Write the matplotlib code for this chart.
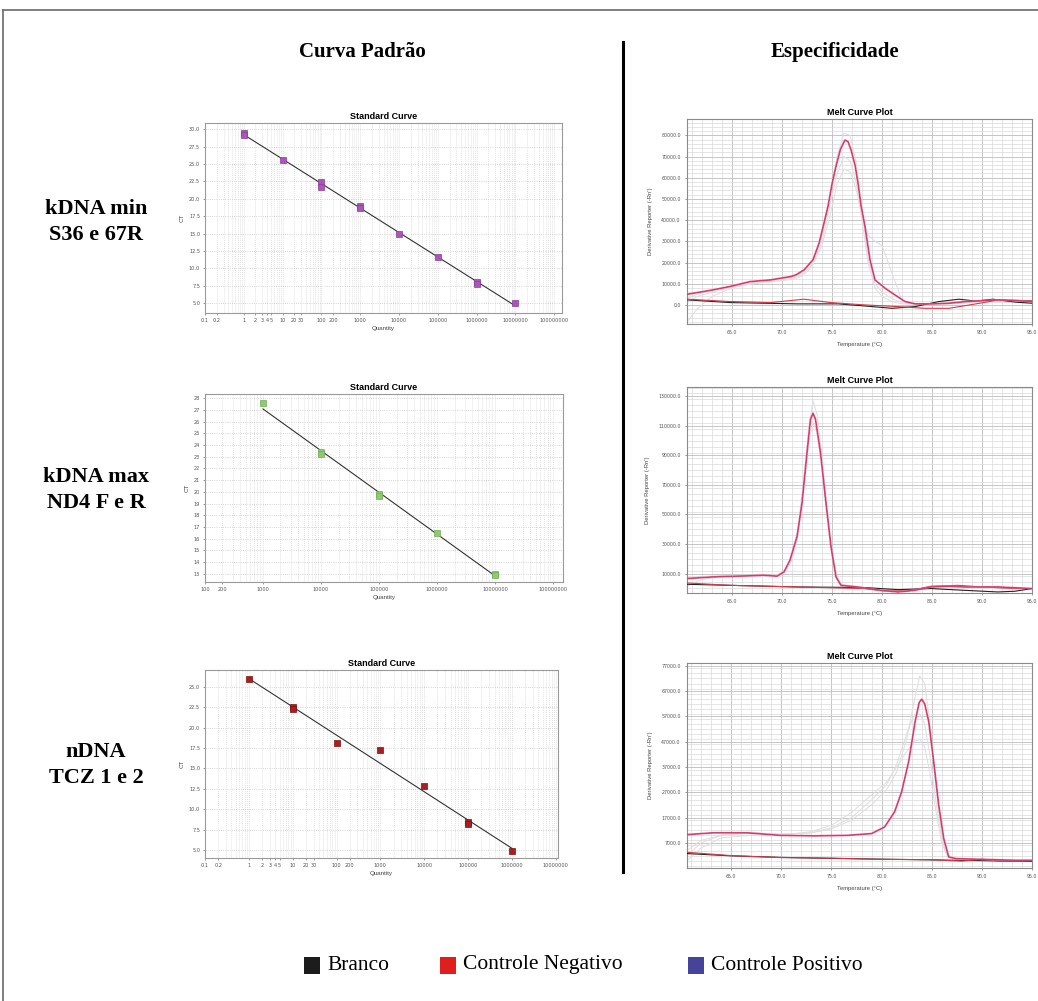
import numpy as np
import matplotlib
matplotlib.use('Agg')
import matplotlib.pyplot as plt
from matplotlib.ticker import FixedLocator, FixedFormatter, LogLocator, MultipleLocator, NullFormatter
from matplotlib.patches import Rectangle
from matplotlib.lines import Line2D

# ---------------- data ----------------
col_titles = ["Curva Padrão", "Especificidade"]
row_labels = ["kDNA min\nS36 e 67R", "kDNA max\nND4 F e R", "nDNA\nTCZ 1 e 2"]
legend_labels = ["Branco", "Controle Negativo", "Controle Positivo"]
legend_colors = ["#1c1c1c", "#e01e1e", "#45439a"]

# Standard curves (quantity, Ct)
sc1_qty = [1, 1, 10, 100, 100, 1000, 1000, 1e4, 1e5, 1e6, 1e6, 1e7]
sc1_ct = [29.5, 29.2, 25.55, 22.45, 21.7, 19.0, 18.7, 15.0, 11.6, 8.1, 7.8, 5.0]
sc2_qty = [1e3, 1e4, 1e4, 1e5, 1e5, 1e6, 1e7, 1e7]
sc2_ct = [27.6, 23.4, 23.2, 19.8, 19.6, 16.5, 13.0, 12.9]
sc3_qty = [1, 10, 10, 100, 1000, 1e4, 1e5, 1e5, 1e6]
sc3_ct = [26.05, 22.5, 22.3, 18.1, 17.3, 12.8, 8.4, 8.2, 4.9]

sc1_xticks = [0.1, 0.2, 1, 2, 3, 4, 5, 10, 20, 30, 100, 200, 1000, 1e4, 1e5, 1e6, 1e7, 1e8]
sc1_yticks = [5.0, 7.5, 10.0, 12.5, 15.0, 17.5, 20.0, 22.5, 25.0, 27.5, 30.0]
sc2_xticks = [100, 200, 1000, 1e4, 1e5, 1e6, 1e7, 1e8]
sc2_yticks = list(range(13, 29))
sc3_xticks = [0.1, 0.2, 1, 2, 3, 4, 5, 10, 20, 30, 100, 200, 1000, 1e4, 1e5, 1e6, 1e7]
sc3_yticks = [5.0, 7.5, 10.0, 12.5, 15.0, 17.5, 20.0, 22.5, 25.0]

# Melt curve 1
m1_pos_T = [60.5, 63.1, 64.8, 66.8, 68.85, 70.9, 71.4, 72.2, 73.1, 73.7, 74.2, 74.6, 75.0, 75.4, 75.85,
            76.3, 76.6, 76.9, 77.3, 77.6, 77.9, 78.3, 78.8, 79.3, 80.3, 81.3, 82.3, 83.3, 85.0, 86.7,
            88.4, 91.7, 95.0]
m1_pos_y = [5000, 7100, 8700, 11000, 11800, 13400, 14200, 16500, 21300, 29000, 38600, 46500, 57000, 65400, 73500,
            77800, 77000, 73200, 66000, 57500, 47000, 37000, 21300, 11800, 7900, 4700, 1600, 500, 500, 800,
            1600, 2400, 1600]
m1_gray_T = [60.5, 61.5, 63, 65, 67, 69, 71, 72, 73, 74, 74.8, 75.5, 76.2, 76.8, 77.4, 78, 78.6, 79.3, 80,
             81, 82, 84, 87, 90, 95]
m1_gray_a = [3000, 5000, 7000, 9000, 10500, 11500, 13000, 15000, 20000, 33000, 52000, 70000, 81000, 80000,
             68000, 45000, 22000, 10000, 6000, 3000, 1000, 500, 800, 1500, 1000]
m1_gray_b = [-8000, -2000, 4000, 8000, 10000, 11000, 12000, 13500, 18000, 28000, 42000, 57000, 64000, 63000,
             55000, 42000, 33000, 30000, 28000, 15000, 2000, 0, 500, 1500, 1000]
m1_gray_c = [1000, 4000, 6000, 8500, 10000, 11000, 12500, 14000, 19000, 30000, 47000, 62000, 70000, 68000,
             58000, 40000, 20000, 8000, 4000, 1500, 500, 200, 1000, 2000, 1500]
m1_blk_T = [60.5, 64.8, 68.2, 71.5, 75.6, 78.3, 81.0, 83.3, 85.7, 87.7, 89.4, 91.1, 93.4, 95.0]
m1_blk_y = [2400, 1100, 800, 500, 500, -500, -1600, -800, 1600, 2700, 1800, 2700, 1300, 800]
m1_neg_T = [60.5, 64.8, 68.85, 72.2, 74.9, 78.3, 81.6, 84.3, 86.7, 89.4, 91.7, 95.0]
m1_neg_y = [2700, 1600, 1100, 2700, 1100, 0, -800, -1600, -1600, 500, 2400, 2000]
m1_yticks = [0, 10000, 20000, 30000, 40000, 50000, 60000, 70000, 80000]

# Melt curve 2
m2_pos_T = [60.5, 63.1, 66.5, 68.15, 69.5, 70.2, 70.8, 71.5, 72.0, 72.5, 72.85, 73.1, 73.35, 73.85, 74.4,
            74.9, 75.4, 75.9, 77.5, 79.9, 81.6, 83.25, 84.9, 86.6, 88.3, 91.6, 95.0]
m2_pos_y = [6600, 7700, 8400, 8900, 8200, 11100, 19100, 35000, 57700, 91800, 114500, 118600, 114500, 91800,
            57700, 28200, 7700, 2000, 900, -1400, -2500, -1400, 900, 1400, 900, 900, -200]
m2_gray_T = [60.5, 62, 64, 67, 69.5, 70.3, 71, 71.6, 72.2, 72.7, 73.1, 73.5, 74, 74.5, 75, 75.5, 76, 78, 82,
             86, 90, 95]
m2_gray_a = [7000, 8000, 8500, 9000, 9000, 12000, 22000, 40000, 75000, 110000, 127000, 118000, 90000, 55000,
             25000, 8000, 2500, 800, -1500, 1000, 900, 0]
m2_gray_b = [1500, 6000, 8000, 8500, 8500, 11000, 19000, 36000, 68000, 100000, 112000, 106000, 82000, 50000,
             22000, 6000, 2000, 500, -2000, 1200, 800, -300]
m2_blk_T = [60.5, 64.8, 71.5, 78.2, 81.6, 84.9, 88.3, 91.6, 93.3, 95.0]
m2_blk_y = [2700, 2000, 900, 500, -900, -200, -1400, -2500, -2000, -200]
m2_neg_T = [60.5, 64.8, 71.5, 78.2, 80.2, 82.6, 84.9, 87.6, 90.0, 93.3, 95.0]
m2_neg_y = [3600, 2000, 900, -200, -1800, -1800, 1400, 2000, 900, -200, -200]
m2_yticks = [10000, 30000, 50000, 70000, 90000, 110000, 130000]

# Melt curve 3
m3_pos_T = [60.6, 63.2, 66.6, 69.9, 73.3, 76.6, 79.0, 80.3, 81.3, 82.0, 82.7, 83.35, 83.75, 84.0, 84.3, 84.7,
            85.2, 85.7, 86.2, 86.7, 87.4, 90.1, 93.4, 95.0]
m3_pos_y = [10300, 11000, 11000, 10000, 9800, 10000, 10700, 13300, 19300, 27200, 39100, 55000, 62500, 63800,
            62000, 55000, 39100, 21900, 8700, 1450, 800, 500, 130, 130]
m3_gray_T = [60.6, 62, 64, 67, 70, 73, 75, 77, 79, 80.5, 81.5, 82.5, 83.2, 83.8, 84.3, 84.8, 85.4, 86, 86.6,
             87.5, 90, 95]
m3_gray_a = [2000, 7000, 10000, 11000, 10500, 11000, 12500, 16000, 22000, 28000, 35000, 48000, 62000, 73000,
             70000, 55000, 30000, 10000, 2000, 800, 500, 200]
m3_gray_b = [0, 5000, 9000, 10000, 10000, 11500, 14000, 19000, 26000, 31000, 37000, 43000, 47000, 48000, 45000,
             35000, 20000, 7000, 1500, 700, 400, 100]
m3_gray_c = [4000, 8000, 10000, 11000, 10500, 11000, 13000, 17000, 24000, 30000, 38000, 50000, 57000, 58000,
             54000, 42000, 24000, 8000, 1800, 800, 500, 200]
m3_blk_T = [60.6, 65, 70, 75, 80, 85, 90, 95]
m3_blk_y = [2800, 1900, 1300, 900, 600, 300, 0, -300]
m3_neg_T = [60.6, 65, 70, 75, 80, 85, 88, 90, 92, 95]
m3_neg_y = [3300, 2000, 1200, 1000, 500, 400, -200, 600, -300, 0]
m3_yticks = [7000, 17000, 27000, 37000, 47000, 57000, 67000, 77000]

melt_xticks = [65, 70, 75, 80, 85, 90, 95]

# ---------------- figure ----------------
W, H = 1038, 1001
fig = plt.figure(figsize=(W / 100, H / 100), dpi=100)
SANS = ["Liberation Sans", "DejaVu Sans"]
SERIF = ["Liberation Serif", "DejaVu Serif"]


def box(l, t, r, b):
    return [l / W, 1 - b / H, (r - l) / W, (b - t) / H]


def fmt_qty(v):
    if v < 1:
        return "%g" % v
    return "%d" % int(round(v))


def std_curve(rect, qty, ct, color, edge, xticks, yticks, xlim, ylim, yfmt):
    ax = fig.add_axes(rect)
    ax.set_xscale('log')
    q = np.array(qty, float)
    c = np.array(ct, float)
    coef = np.polyfit(np.log10(q), c, 1)
    xs = np.array([q.min(), q.max()])
    ax.plot(xs, np.polyval(coef, np.log10(xs)), color='#333333', lw=0.8, zorder=3)
    ax.plot(q, c, 's', ms=5, mfc=color, mec=edge, mew=0.5, zorder=4, ls='none')
    ax.set_xlim(*xlim)
    ax.set_ylim(*ylim)
    ax.xaxis.set_major_locator(FixedLocator(xticks))
    ax.xaxis.set_major_formatter(FixedFormatter([fmt_qty(v) for v in xticks]))
    ax.xaxis.set_minor_locator(LogLocator(base=10, subs=np.arange(1, 10), numticks=30))
    ax.xaxis.set_minor_formatter(NullFormatter())
    ax.yaxis.set_major_locator(FixedLocator(yticks))
    ax.yaxis.set_major_formatter(FixedFormatter([yfmt % v for v in yticks]))
    ax.grid(which='both', axis='x', ls=':', color='#d2d2d2', lw=0.55)
    ax.grid(which='major', axis='y', ls=':', color='#c8c8c8', lw=0.6)
    ax.tick_params(which='both', labelsize=3.6, colors='#555555', length=1.5, width=0.4, pad=2)
    ax.tick_params(which='minor', length=0)
    for s in ax.spines.values():
        s.set_color('#9a9a9a')
        s.set_linewidth(0.8)
    ax.set_title("Standard Curve", fontsize=6.5, fontweight='bold', family=SANS, pad=3)
    ax.set_xlabel("Quantity", fontsize=4.5, color='#444444', labelpad=2, family=SANS)
    ax.set_ylabel("CT", fontsize=4.5, color='#444444', labelpad=3, family=SANS)
    return ax


def melt_curve(rect, pos, grays, gray_T, blk, neg, yticks, ylim, xlim, yminor):
    ax = fig.add_axes(rect)
    for g in grays:
        ax.plot(gray_T, g, color='#dedede', lw=0.7, zorder=2)
    ax.plot(blk[0], blk[1], color='#222222', lw=0.8, zorder=3)
    ax.plot(neg[0], neg[1], color='#d23a4a', lw=0.8, zorder=3)
    ax.plot(pos[0], pos[1], color='#e65c8a', lw=1.3, zorder=4)
    ax.plot(pos[0], pos[1], color='#b8204c', lw=0.35, zorder=5)
    ax.set_xlim(*xlim)
    ax.set_ylim(*ylim)
    ax.xaxis.set_major_locator(FixedLocator(melt_xticks))
    ax.xaxis.set_major_formatter(FixedFormatter(["%.1f" % v for v in melt_xticks]))
    ax.xaxis.set_minor_locator(MultipleLocator(1))
    ax.yaxis.set_major_locator(FixedLocator(yticks))
    ax.yaxis.set_major_formatter(FixedFormatter(["%.1f" % v for v in yticks]))
    ax.yaxis.set_minor_locator(MultipleLocator(yminor))
    ax.grid(which='major', color='#bdbdbd', lw=0.6)
    ax.grid(which='minor', color='#d6d6d6', lw=0.45)
    ax.tick_params(which='both', labelsize=3.4, colors='#555555', length=1.5, width=0.4, pad=3)
    ax.tick_params(which='minor', length=0)
    for s in ax.spines.values():
        s.set_color('#8a8a8a')
        s.set_linewidth(0.8)
    ax.set_title("Melt Curve Plot", fontsize=6.5, fontweight='bold', family=SANS, pad=3)
    ax.set_xlabel("Temperature (°C)", fontsize=4.2, color='#444444', labelpad=5, family=SANS)
    ax.set_ylabel("Derivative Reporter (-Rn')", fontsize=4.2, color='#444444', labelpad=6, family=SANS)
    return ax


std_curve(box(205, 123, 562, 313), sc1_qty, sc1_ct, '#a956b6', '#8a3c98', sc1_xticks, sc1_yticks,
          (0.1, 10 ** 8.2), (3.6, 30.9), "%.1f")
std_curve(box(205, 394, 563, 582), sc2_qty, sc2_ct, '#8fca72', '#6fae55', sc2_xticks, sc2_yticks,
          (100, 10 ** 8.17), (12.3, 28.35), "%d")
std_curve(box(205, 670, 558, 858), sc3_qty, sc3_ct, '#a81f1f', '#7d1010', sc3_xticks, sc3_yticks,
          (0.1, 10 ** 7.05), (4.0, 27.1), "%.1f")

melt_curve(box(687, 119, 1032, 324), (m1_pos_T, m1_pos_y), [m1_gray_a, m1_gray_b, m1_gray_c], m1_gray_T,
           (m1_blk_T, m1_blk_y), (m1_neg_T, m1_neg_y), m1_yticks, (-9000, 87700), (60.5, 95.0), 2000)
melt_curve(box(687, 387, 1032, 593), (m2_pos_T, m2_pos_y), [m2_gray_a, m2_gray_b], m2_gray_T,
           (m2_blk_T, m2_blk_y), (m2_neg_T, m2_neg_y), m2_yticks, (-3200, 136400), (60.5, 95.0), 4000)
melt_curve(box(687, 663, 1032, 868), (m3_pos_T, m3_pos_y), [m3_gray_a, m3_gray_b, m3_gray_c], m3_gray_T,
           (m3_blk_T, m3_blk_y), (m3_neg_T, m3_neg_y), m3_yticks, (-2900, 78100), (60.6, 95.0), 2000)

# column titles
fig.text(362 / W, 1 - 52 / H, col_titles[0], ha='center', va='center', fontsize=15, fontweight='bold',
         family=SERIF)
fig.text(835 / W, 1 - 52 / H, col_titles[1], ha='center', va='center', fontsize=15, fontweight='bold',
         family=SERIF)

# row labels
for lab, yc in zip(row_labels, [222, 490, 765]):
    fig.text(96 / W, 1 - yc / H, lab, ha='center', va='center', fontsize=16, fontweight='bold',
             family=SERIF, linespacing=1.35)

# divider
fig.add_artist(Line2D([623 / W, 623 / W], [1 - 42 / H, 1 - 872 / H], color='black', lw=2.2))

# frame (left and top visible)
fig.add_artist(Line2D([3 / W, 3 / W], [0, 1 - 10 / H], color='#6a6a6a', lw=1.2))
fig.add_artist(Line2D([3 / W, 1], [1 - 10 / H, 1 - 10 / H], color='#6a6a6a', lw=1.2))

# legend
leg_x = [304, 440, 688]
for x0, lab, colr in zip(leg_x, legend_labels, legend_colors):
    fig.add_artist(Rectangle((x0 / W, 1 - 974 / H), 16 / W, 17 / H, facecolor=colr, edgecolor='none'))
    fig.text((x0 + 23) / W, 1 - 965 / H, lab, ha='left', va='center', fontsize=15.5, family=SERIF)

fig.savefig("out.png", dpi=100, facecolor='white')
